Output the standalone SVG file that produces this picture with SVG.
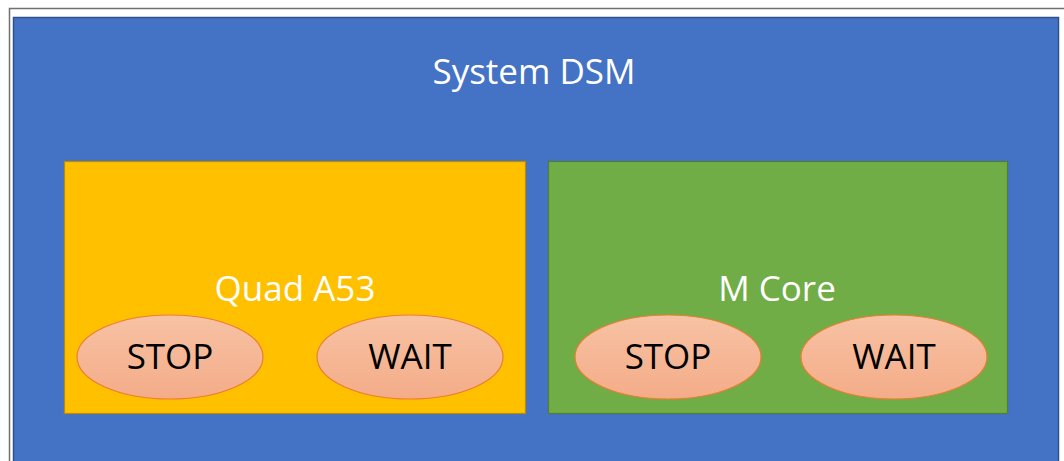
<svg xmlns="http://www.w3.org/2000/svg" width="1064" height="461" viewBox="0 0 1064 461">
<defs>
<linearGradient id="eg" x1="0" y1="0" x2="0" y2="1">
<stop offset="0" stop-color="#F7C2A4"/>
<stop offset="1" stop-color="#F4AC88"/>
</linearGradient>
<style>
.lbl{font-family:"Open Sans","Liberation Sans",sans-serif;font-size:35px;text-anchor:middle}
.w{fill:#FFFFFF}
.k{fill:#000000}
.st{fill:url(#eg);stroke:#ED7D31;stroke-width:1.2}
</style>
</defs>
<rect x="0" y="0" width="1064" height="461" fill="#FFFFFF"/>
<path d="M9.5 461 V8.5 H1064" fill="none" stroke="#707070" stroke-width="1.5"/>
<g id="system-dsm">
<rect x="13.5" y="17.5" width="1045" height="450" fill="#4472C4" stroke="#2F528F" stroke-width="1.5"/>
<text class="lbl w" x="534" y="84">System DSM</text>
</g>
<g id="quad-a53">
<rect x="64.5" y="161.5" width="461" height="252" fill="#FFC000" stroke="#BC8C00" stroke-width="1.2"/>
<text class="lbl w" x="295" y="301">Quad A53</text>
</g>
<g id="m-core">
<rect x="548.5" y="161.5" width="459" height="252" fill="#70AD47" stroke="#507E32" stroke-width="1.2"/>
<text class="lbl w" x="777" y="301">M Core</text>
</g>
<g id="a53-stop">
<ellipse class="st" cx="170" cy="357" rx="93" ry="42"/>
<text class="lbl k" x="170" y="369">STOP</text>
</g>
<g id="a53-wait">
<ellipse class="st" cx="410" cy="357" rx="93" ry="42"/>
<text class="lbl k" x="410" y="369">WAIT</text>
</g>
<g id="m-stop">
<ellipse class="st" cx="668" cy="357" rx="93" ry="42"/>
<text class="lbl k" x="668" y="369">STOP</text>
</g>
<g id="m-wait">
<ellipse class="st" cx="894" cy="357" rx="93" ry="42"/>
<text class="lbl k" x="894" y="369">WAIT</text>
</g>
<g id="connectors"/>
</svg>
